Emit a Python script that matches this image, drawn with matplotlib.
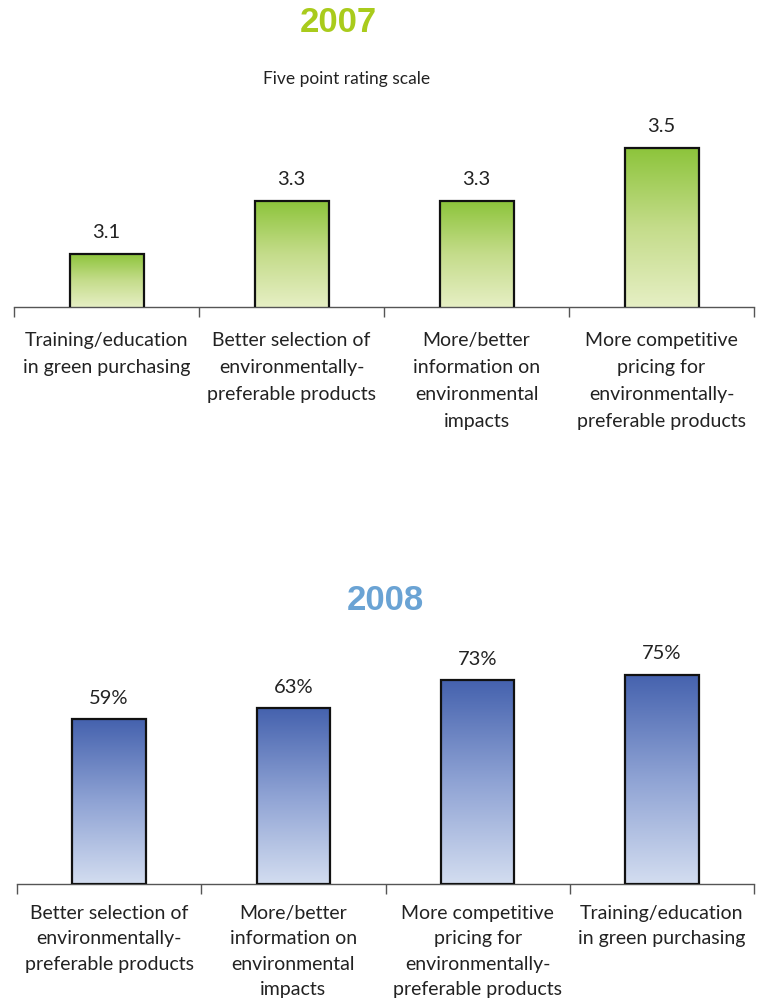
import numpy as np
import matplotlib
matplotlib.use("Agg")
import matplotlib.pyplot as plt
from matplotlib.colors import LinearSegmentedColormap

plt.rcParams['font.family'] = ['Lato', 'DejaVu Sans']

# 2007 data (five point rating scale)
cats_2007 = ["Training/education\nin green purchasing",
             "Better selection of\nenvironmentally-\npreferable products",
             "More/better\ninformation on\nenvironmental\nimpacts",
             "More competitive\npricing for\nenvironmentally-\npreferable products"]
vals_2007 = [3.1, 3.3, 3.3, 3.5]
labels_2007 = ["3.1", "3.3", "3.3", "3.5"]

# 2008 data (percent)
cats_2008 = ["Better selection of\nenvironmentally-\npreferable products",
             "More/better\ninformation on\nenvironmental\nimpacts",
             "More competitive\npricing for\nenvironmentally-\npreferable products",
             "Training/education\nin green purchasing"]
vals_2008 = [59, 63, 73, 75]
labels_2008 = ["59%", "63%", "73%", "75%"]

green_cmap = LinearSegmentedColormap.from_list("g", ["#e6efc4", "#c4dc8a", "#8cc43a"])
blue_cmap = LinearSegmentedColormap.from_list("b", ["#d3ddf0", "#8fa3d4", "#4562ae"])

fig = plt.figure(figsize=(7.61, 10.05), dpi=100)


def gradient_bars(ax, cats, vals, labels, cmap, ylim, pad, spacing):
    x = np.arange(len(cats))
    bars = ax.bar(x, vals, width=0.4, facecolor="none", edgecolor="#111111",
                  linewidth=1.6, zorder=3)
    ax.set_xlim(-0.5, len(cats) - 0.5)
    ax.set_ylim(*ylim)
    grad = np.linspace(0, 1, 256).reshape(-1, 1)
    for b in bars:
        x0, w, h = b.get_x(), b.get_width(), b.get_height()
        im = ax.imshow(grad, cmap=cmap, origin="lower", aspect="auto",
                       extent=[x0, x0 + w, ylim[0], h], zorder=2)
        im.set_clip_path(b)
    ax.bar_label(bars, labels=labels, padding=9, fontsize=14.5, color="#222222")
    for s in ["top", "left", "right"]:
        ax.spines[s].set_visible(False)
    ax.spines["bottom"].set_color("#555555")
    ax.spines["bottom"].set_linewidth(1.0)
    ax.set_yticks([])
    ax.set_xticks(np.arange(len(cats) + 1) - 0.5)
    ax.set_xticklabels([])
    ax.tick_params(axis="x", which="major", length=7, color="#555555", width=1.0)
    ax.set_xticks(x, minor=True)
    ax.set_xticklabels(cats, minor=True, fontsize=14, color="#222222", linespacing=spacing)
    ax.tick_params(axis="x", which="minor", length=0, pad=pad)


ax1 = fig.add_axes([14 / 761, 1 - 307 / 1005, 740 / 761, 197 / 1005])
gradient_bars(ax1, cats_2007, vals_2007, labels_2007, green_cmap, (2.9, 3.643), 18, 1.72)

ax2 = fig.add_axes([17 / 761, 1 - 884 / 1005, 737 / 761, 234 / 1005])
gradient_bars(ax2, cats_2008, vals_2008, labels_2008, blue_cmap, (0, 83.9), 15, 1.6)

fig.text(338 / 761, 1 - 23 / 1005, "2007", ha="center", va="center", fontsize=25,
         fontweight="bold", color="#a9cb1c", family=["Liberation Sans"])
fig.text(347 / 761, 1 - 79 / 1005, "Five point rating scale", ha="center", va="center",
         fontsize=12.5, color="#222222")
fig.text(385 / 761, 1 - 600 / 1005, "2008", ha="center", va="center", fontsize=25,
         fontweight="bold", color="#6aa3d4", family=["Liberation Sans"])

fig.savefig("out.png", dpi=100)
